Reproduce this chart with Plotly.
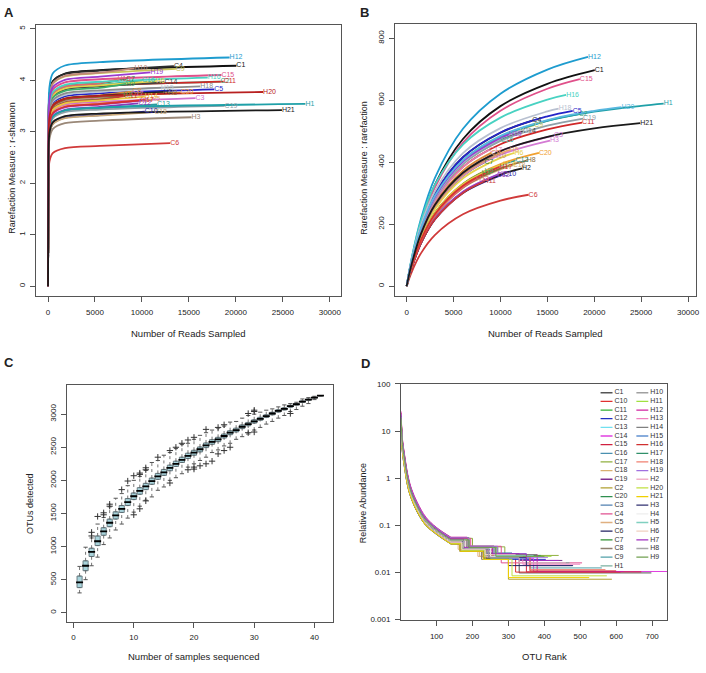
import plotly.graph_objects as go

W, H = 706, 673
FONT = "Liberation Sans, Arial, sans-serif"

# ---------------- sample table (panels A and B) ----------------
NAMES = ["C1", "C2", "C3", "C4", "C5", "C6", "C7", "C8", "C9", "C10",
         "C11", "C12", "C13", "C14", "C15", "C16", "C17", "C18", "C19", "C20",
         "H1", "H2", "H3", "H4", "H5", "H6", "H7", "H8", "H9", "H10",
         "H11", "H12", "H13", "H14", "H15", "H16", "H17", "H18", "H19", "H20", "H21"]
DEPTH = [20050, 18350, 15700, 13400, 17700, 13000, 8300, 9000, 13600, 10300,
         18700, 9600, 11600, 12400, 18460, 10000, 8800, 11300, 18800, 14100,
         27400, 12300, 15280, 8000, 11000, 11500, 9700, 12800, 8300, 9200,
         8200, 19330, 7400, 10300, 12000, 17000, 9900, 16200, 10900, 22900, 24900]

COLOR_A = ["#111111", "#3aa57a", "#d070d0", "#2b2b2b", "#2525c8", "#d03a3a", "#1f7a3a", "#d98c3a", "#c9c45a", "#2424a8",
           "#d02828", "#8a3ab9", "#2a9d9d", "#444444", "#e0508a", "#3cb8a8", "#e080b0", "#c8a878", "#8fa0a8", "#f0a030",
           "#1fa0a8", "#202020", "#9a8878", "#5a9a3a", "#e8a868", "#e6d24a", "#9b40c8", "#8b6a3a", "#3cae6a", "#c08878",
           "#c83838", "#1e9ccf", "#e06a6a", "#e8c840", "#b8c8d8", "#48d2c2", "#d83030", "#8c8c8c", "#9a3ad0", "#b82020", "#1a1a1a"]
COLOR_B = list(COLOR_A)
COLOR_B[NAMES.index("H3")] = "#d47ad4"
COLOR_B[NAMES.index("H18")] = "#b8c0d0"
COLOR_B[NAMES.index("H20")] = "#5ab8e0"

# Panel A: Shannon rarefaction values at reads [0, 40, 150, 500, 1800, 5500] then at DEPTH
SHANNON_X = [0, 40, 150, 500, 1800, 5500]
SHANNON = [
    [0, 2.354, 3.724, 3.980, 4.130, 4.194, 4.28],
    [0, 2.184, 3.454, 3.692, 3.831, 3.891, 3.97],
    [0, 2.008, 3.176, 3.395, 3.522, 3.577, 3.65],
    [0, 2.349, 3.715, 3.971, 4.121, 4.185, 4.27],
    [0, 2.101, 3.323, 3.553, 3.686, 3.744, 3.82],
    [0, 1.529, 2.419, 2.585, 2.683, 2.724, 2.78],
    [0, 2.211, 3.497, 3.739, 3.879, 3.940, 4.02],
    [0, 2.079, 3.289, 3.515, 3.648, 3.704, 3.78],
    [0, 2.321, 3.671, 3.925, 4.072, 4.136, 4.22],
    [0, 1.865, 2.949, 3.153, 3.271, 3.322, 3.39],
    [0, 2.184, 3.454, 3.692, 3.831, 3.891, 3.97],
    [0, 1.953, 3.089, 3.302, 3.426, 3.479, 3.55],
    [0, 1.942, 3.071, 3.283, 3.406, 3.459, 3.53],
    [0, 2.178, 3.445, 3.683, 3.821, 3.881, 3.96],
    [0, 2.255, 3.567, 3.813, 3.957, 4.018, 4.10],
    [0, 2.195, 3.471, 3.711, 3.850, 3.910, 3.99],
    [0, 2.046, 3.236, 3.460, 3.590, 3.646, 3.72],
    [0, 1.859, 2.941, 3.143, 3.262, 3.312, 3.38],
    [0, 1.925, 3.045, 3.255, 3.378, 3.430, 3.50],
    [0, 2.068, 3.271, 3.497, 3.628, 3.685, 3.76],
    [0, 1.947, 3.080, 3.292, 3.416, 3.469, 3.54],
    [0, 2.074, 3.280, 3.506, 3.638, 3.695, 3.77],
    [0, 1.804, 2.854, 3.050, 3.165, 3.214, 3.28],
    [0, 2.035, 3.219, 3.441, 3.571, 3.626, 3.70],
    [0, 1.991, 3.149, 3.367, 3.493, 3.548, 3.62],
    [0, 2.189, 3.463, 3.701, 3.841, 3.900, 3.98],
    [0, 1.980, 3.132, 3.348, 3.474, 3.528, 3.60],
    [0, 2.063, 3.263, 3.488, 3.619, 3.675, 3.75],
    [0, 2.162, 3.419, 3.655, 3.792, 3.851, 3.93],
    [0, 2.327, 3.680, 3.934, 4.082, 4.145, 4.23],
    [0, 2.030, 3.210, 3.432, 3.561, 3.616, 3.69],
    [0, 2.442, 3.863, 4.129, 4.285, 4.351, 4.44],
    [0, 2.211, 3.497, 3.739, 3.879, 3.940, 4.02],
    [0, 2.024, 3.202, 3.422, 3.551, 3.606, 3.68],
    [0, 2.118, 3.350, 3.581, 3.715, 3.773, 3.85],
    [0, 2.228, 3.524, 3.767, 3.908, 3.969, 4.05],
    [0, 1.986, 3.141, 3.357, 3.484, 3.538, 3.61],
    [0, 2.134, 3.376, 3.608, 3.744, 3.802, 3.88],
    [0, 2.283, 3.611, 3.860, 4.005, 4.067, 4.15],
    [0, 2.074, 3.280, 3.506, 3.638, 3.695, 3.77],
    [0, 1.881, 2.975, 3.181, 3.300, 3.352, 3.42],
]

# Panel B: richness at reads [0, 500, 1500, 3000, 6000, 10000, 15000, 20000, 25000] (as far as read) then at DEPTH
RICH_X = [0, 500, 1500, 3000, 6000, 10000, 15000, 20000, 25000]
RICH = [
    [0, 79, 201, 327, 475, 581, 653, 697],
    [0, 75, 184, 290, 406, 483, 534, 555],
    [0, 68, 166, 261, 366, 436, 481, 486],
    [0, 77, 189, 297, 416, 495, 534],
    [0, 77, 189, 297, 416, 496, 548, 566],
    [0, 43, 105, 165, 232, 276, 295],
    [0, 66, 162, 254, 356, 400],
    [0, 69, 169, 266, 373, 430],
    [0, 75, 184, 288, 404, 481, 520],
    [0, 56, 137, 215, 301, 361],
    [0, 71, 175, 275, 385, 458, 506, 528],
    [0, 56, 138, 217, 304, 358],
    [0, 61, 149, 234, 328, 390, 406],
    [0, 74, 180, 283, 397, 472, 500],
    [0, 77, 196, 318, 463, 566, 637, 668],
    [0, 73, 179, 282, 395, 470],
    [0, 71, 175, 274, 384, 440],
    [0, 59, 144, 226, 317, 377, 390],
    [0, 73, 179, 281, 394, 469, 518, 541],
    [0, 61, 151, 237, 331, 394, 430],
    [0, 75, 184, 289, 405, 482, 533, 563, 582, 589],
    [0, 56, 137, 216, 302, 360, 380],
    [0, 66, 162, 254, 356, 424, 470],
    [0, 61, 149, 235, 329, 365],
    [0, 67, 164, 257, 360, 429, 440],
    [0, 64, 158, 248, 348, 414, 430],
    [0, 57, 139, 218, 305, 360],
    [0, 59, 145, 228, 319, 380, 405],
    [0, 61, 150, 235, 329, 370],
    [0, 67, 164, 258, 362, 420],
    [0, 56, 137, 215, 301, 337],
    [0, 85, 215, 349, 508, 621, 699, 740],
    [0, 59, 145, 228, 319, 345],
    [0, 61, 150, 235, 329, 395],
    [0, 74, 182, 286, 400, 476, 500],
    [0, 85, 208, 327, 457, 544, 602, 617],
    [0, 60, 147, 232, 324, 385],
    [0, 79, 195, 306, 429, 510, 564, 573],
    [0, 74, 183, 287, 402, 478, 490],
    [0, 75, 185, 291, 407, 485, 536, 566, 578],
    [0, 68, 167, 262, 366, 436, 482, 509, 526],
]
READ_TICKS = [0, 5000, 10000, 15000, 20000, 25000, 30000]
READ_TICK_TEXT = ["0", "5000", "10000", "15000", "20000", "25000", "30000"]

# ---------------- panel C: OTU accumulation boxplots ----------------
C_X = list(range(1, 42))
C_MED = [460, 710, 920, 1080, 1230, 1360, 1470, 1570, 1670, 1760, 1840, 1910, 1990, 2060, 2120, 2190, 2250, 2310, 2370, 2420,
         2470, 2530, 2580, 2620, 2670, 2720, 2760, 2810, 2850, 2890, 2930, 2970, 3010, 3050, 3080, 3120, 3150, 3190, 3220, 3250, 3280]
C_Q1 = [380, 635, 850, 1015, 1170, 1300, 1415, 1515, 1620, 1710, 1790, 1860, 1940, 2015, 2075, 2145, 2210, 2270, 2330, 2380,
        2430, 2495, 2545, 2585, 2640, 2690, 2732, 2782, 2825, 2865, 2908, 2950, 2990, 3032, 3064, 3105, 3138, 3180, 3212, 3244, 3280]
C_Q3 = [555, 785, 975, 1160, 1285, 1415, 1525, 1620, 1725, 1810, 1890, 1955, 2035, 2105, 2165, 2230, 2290, 2350, 2410, 2455,
        2505, 2565, 2615, 2650, 2700, 2750, 2788, 2838, 2875, 2915, 2952, 2990, 3028, 3068, 3096, 3134, 3162, 3200, 3228, 3256, 3280]
C_LO = [300, 500, 710, 840, 1030, 1130, 1250, 1340, 1430, 1520, 1610, 1700, 1750, 1850, 1900, 2000, 2040, 2100, 2200, 2250,
        2300, 2350, 2420, 2460, 2520, 2560, 2620, 2660, 2700, 2760, 2800, 2850, 2890, 2940, 2980, 3040, 3070, 3120, 3160, 3220, 3280]
C_HI = [700, 990, 1130, 1340, 1440, 1600, 1730, 1800, 1920, 2000, 2060, 2150, 2270, 2300, 2380, 2420, 2480, 2540, 2560, 2620,
        2680, 2720, 2760, 2790, 2820, 2880, 2890, 2940, 2980, 3000, 3030, 3060, 3080, 3110, 3140, 3160, 3180, 3230, 3250, 3270, 3280]
OUT_X = [3, 3, 4, 5, 5, 6, 6, 8, 9, 10, 10, 11, 11, 11, 12, 12, 12, 14, 16, 16, 17, 18, 19, 19, 20, 20, 20,
         21, 22, 22, 23, 24, 24, 25, 25, 26, 29, 29, 30, 30, 30, 36]
OUT_Y = [1215, 1160, 1455, 1510, 1480, 1640, 1610, 1860, 1990, 2070, 1480, 2110, 2090, 1570, 2190, 2160, 1690, 2350, 2450, 1960,
         2500, 2560, 2610, 2160, 2650, 2200, 2170, 2220, 2770, 2250, 2290, 2800, 2400, 2840, 2450, 2500, 3010, 2720, 3060, 2730, 3040, 3010]

# ---------------- panel D: rank abundance ----------------
LEGEND_ORDER = ["C1", "C10", "C11", "C12", "C13", "C14", "C15", "C16", "C17", "C18", "C19", "C2", "C20", "C3", "C4",
                "C5", "C6", "C7", "C8", "C9", "H1", "H10", "H11", "H12", "H13", "H14", "H15", "H16", "H17", "H18",
                "H19", "H2", "H20", "H21", "H3", "H4", "H5", "H6", "H7", "H8", "H9"]
D_COLORS = ["#555555", "#e03030", "#30b030", "#2030c0", "#70e0f0", "#e040e0", "#d02040", "#4a90b0", "#90b040", "#d8b070",
            "#803090", "#b0a030", "#2f8f4f", "#5080b0", "#e05090", "#e0b080", "#202060", "#309030", "#8f7f6f", "#50a0a8",
            "#7ab0a0", "#a0a0a0", "#a0e040", "#d020a0", "#f080c0", "#808080", "#6090d0", "#d03030", "#30906a", "#f08070",
            "#a070e0", "#f0b0c8", "#c0e040", "#f0d000", "#303070", "#eeeeee", "#80d0c0", "#f0d0c0", "#a030c0", "#a8a8a8", "#70a050"]
HEAD_RANK = [1, 5, 10, 20, 30, 47, 70, 100, 140]
D_HEAD = [
    [20, 5.5, 2.9, 1.0, 0.52, 0.26, 0.135, 0.082, 0.05],
    [16, 4.6, 2.4, 0.85, 0.46, 0.23, 0.12, 0.075, 0.046],
    [22, 6.0, 3.1, 1.05, 0.55, 0.27, 0.14, 0.088, 0.055],
    [14, 4.2, 2.2, 0.78, 0.42, 0.21, 0.112, 0.072, 0.045],
    [19, 5.2, 2.7, 0.92, 0.49, 0.245, 0.128, 0.08, 0.05],
    [15, 4.4, 2.3, 0.82, 0.44, 0.22, 0.115, 0.073, 0.045],
    [24, 6.3, 3.3, 1.1, 0.57, 0.28, 0.14, 0.085, 0.052],
    [17, 4.8, 2.5, 0.88, 0.47, 0.235, 0.122, 0.077, 0.047],
    [21, 5.8, 3.0, 1.0, 0.53, 0.265, 0.135, 0.085, 0.053],
    [13, 4.0, 2.1, 0.75, 0.41, 0.21, 0.11, 0.07, 0.044],
    [18, 5.0, 2.6, 0.9, 0.48, 0.24, 0.125, 0.078, 0.048],
    [12, 3.6, 1.9, 0.66, 0.37, 0.19, 0.1, 0.066, 0.041],
    [20, 5.5, 2.8, 0.96, 0.5, 0.25, 0.13, 0.082, 0.05],
    [16, 4.6, 2.4, 0.84, 0.45, 0.225, 0.118, 0.074, 0.046],
    [23, 6.2, 3.2, 1.08, 0.56, 0.28, 0.14, 0.086, 0.053],
    [15, 4.3, 2.25, 0.8, 0.43, 0.215, 0.113, 0.072, 0.045],
    [11, 3.4, 1.8, 0.64, 0.36, 0.185, 0.1, 0.064, 0.04],
    [19, 5.3, 2.75, 0.94, 0.5, 0.25, 0.13, 0.08, 0.05],
    [14, 4.1, 2.15, 0.76, 0.41, 0.205, 0.108, 0.069, 0.043],
    [17, 4.9, 2.55, 0.88, 0.47, 0.235, 0.122, 0.077, 0.048],
    [22, 6.0, 3.1, 1.05, 0.55, 0.27, 0.14, 0.087, 0.054],
    [16, 4.5, 2.35, 0.83, 0.45, 0.225, 0.118, 0.075, 0.046],
    [18, 5.1, 2.65, 0.9, 0.48, 0.24, 0.125, 0.078, 0.049],
    [26, 6.8, 3.5, 1.18, 0.6, 0.3, 0.15, 0.09, 0.056],
    [15, 4.4, 2.3, 0.82, 0.44, 0.22, 0.116, 0.073, 0.046],
    [20, 5.6, 2.9, 0.98, 0.52, 0.26, 0.133, 0.083, 0.051],
    [17, 4.8, 2.5, 0.87, 0.46, 0.232, 0.12, 0.076, 0.047],
    [21, 5.8, 3.0, 1.02, 0.54, 0.27, 0.137, 0.084, 0.052],
    [14, 4.2, 2.2, 0.78, 0.42, 0.21, 0.111, 0.071, 0.044],
    [19, 5.3, 2.7, 0.93, 0.49, 0.245, 0.127, 0.079, 0.049],
    [23, 6.2, 3.2, 1.08, 0.56, 0.28, 0.142, 0.087, 0.054],
    [13, 3.9, 2.05, 0.72, 0.39, 0.2, 0.106, 0.068, 0.043],
    [12, 3.7, 1.95, 0.69, 0.38, 0.195, 0.103, 0.066, 0.041],
    [11, 3.5, 1.85, 0.66, 0.365, 0.19, 0.1, 0.065, 0.04],
    [16, 4.6, 2.4, 0.84, 0.45, 0.225, 0.117, 0.074, 0.046],
    [18, 5.0, 2.6, 0.9, 0.48, 0.24, 0.125, 0.078, 0.048],
    [20, 5.5, 2.85, 0.97, 0.51, 0.255, 0.132, 0.082, 0.05],
    [15, 4.3, 2.25, 0.8, 0.43, 0.215, 0.113, 0.072, 0.045],
    [21, 5.7, 2.95, 1.0, 0.53, 0.262, 0.135, 0.083, 0.051],
    [17, 4.7, 2.45, 0.86, 0.46, 0.23, 0.12, 0.075, 0.047],
    [19, 5.2, 2.7, 0.92, 0.49, 0.245, 0.127, 0.079, 0.049],
]
D_TAIL_X = [
    [140, 175, 240, 330, 698], [140, 170, 230, 320, 612], [140, 190, 260, 400], [140, 180, 250, 404],
    [140, 185, 260, 350], [140, 175, 260, 370, 742], [140, 180, 250, 350, 670], [140, 170, 230, 330],
    [140, 200, 290, 440], [140, 165, 220, 300], [140, 175, 240, 330, 450], [140, 175, 235, 300, 588],
    [140, 185, 265, 390], [140, 170, 230, 310], [140, 195, 280, 505], [140, 160, 215, 290],
    [140, 165, 230, 300, 478], [140, 190, 270, 395], [140, 165, 225, 290], [140, 180, 250, 360, 560],
    [140, 185, 260, 350, 470], [140, 175, 240, 330], [140, 190, 270, 420], [140, 185, 260, 380, 620],
    [140, 180, 245, 340, 500], [140, 190, 265, 380], [140, 180, 250, 360], [140, 185, 255, 360, 600],
    [140, 170, 235, 320], [140, 180, 250, 360, 570], [140, 190, 270, 410], [140, 170, 235, 330, 460],
    [140, 170, 235, 310, 574], [140, 165, 230, 300, 525], [140, 175, 245, 350, 480], [140, 180, 250, 340],
    [140, 185, 260, 370], [140, 170, 235, 320], [140, 175, 255, 350, 440], [140, 175, 245, 330], [140, 190, 265, 400],
]
D_TAIL_Y = [
    [0.05, 0.035, 0.023, 0.0098, 0.0098], [0.046, 0.032, 0.021, 0.0102, 0.0102], [0.055, 0.036, 0.022, 0.022], [0.045, 0.031, 0.019, 0.019],
    [0.05, 0.034, 0.025, 0.025], [0.045, 0.03, 0.02, 0.0105, 0.0105], [0.052, 0.035, 0.022, 0.0103, 0.0103], [0.047, 0.033, 0.024, 0.024],
    [0.053, 0.035, 0.023, 0.023], [0.044, 0.03, 0.022, 0.022], [0.048, 0.033, 0.025, 0.018, 0.018], [0.041, 0.03, 0.02, 0.0072, 0.0072],
    [0.05, 0.035, 0.023, 0.023], [0.046, 0.032, 0.026, 0.026], [0.053, 0.036, 0.016, 0.016], [0.045, 0.031, 0.022, 0.022],
    [0.04, 0.028, 0.02, 0.014, 0.014], [0.05, 0.034, 0.022, 0.022], [0.043, 0.03, 0.019, 0.019], [0.048, 0.033, 0.021, 0.0125, 0.0125],
    [0.054, 0.036, 0.024, 0.016, 0.016], [0.046, 0.032, 0.021, 0.021], [0.049, 0.034, 0.022, 0.022], [0.056, 0.036, 0.024, 0.0105, 0.0105],
    [0.046, 0.032, 0.022, 0.015, 0.015], [0.051, 0.035, 0.024, 0.024], [0.047, 0.032, 0.02, 0.02], [0.052, 0.035, 0.023, 0.0108, 0.0108],
    [0.044, 0.031, 0.022, 0.022], [0.049, 0.034, 0.022, 0.0115, 0.0115], [0.054, 0.036, 0.021, 0.021], [0.043, 0.031, 0.022, 0.016, 0.016],
    [0.041, 0.029, 0.019, 0.0085, 0.0085], [0.04, 0.028, 0.019, 0.0078, 0.0078], [0.046, 0.032, 0.021, 0.014, 0.014], [0.048, 0.033, 0.022, 0.022],
    [0.05, 0.034, 0.023, 0.023], [0.045, 0.031, 0.024, 0.024], [0.051, 0.034, 0.025, 0.018, 0.018], [0.047, 0.032, 0.021, 0.021], [0.049, 0.034, 0.022, 0.022],
]

# ---------------- figure ----------------
fig = go.Figure()

# Panel A
for i, name in enumerate(NAMES):
    fig.add_trace(go.Scatter(x=SHANNON_X + [DEPTH[i]], y=SHANNON[i], mode="lines",
                             line=dict(color=COLOR_A[i], width=1.8, shape="spline", smoothing=0.8),
                             xaxis="x", yaxis="y", hoverinfo="skip"))
fig.add_trace(go.Scatter(x=DEPTH, y=[s[-1] for s in SHANNON], mode="text", text=NAMES,
                         textposition="middle right", textfont=dict(size=7, color=COLOR_A, family=FONT),
                         xaxis="x", yaxis="y", cliponaxis=False, hoverinfo="skip"))

# Panel B
for i, name in enumerate(NAMES):
    vals = RICH[i]
    fig.add_trace(go.Scatter(x=RICH_X[:len(vals) - 1] + [DEPTH[i]], y=vals, mode="lines",
                             line=dict(color=COLOR_B[i], width=1.8, shape="spline", smoothing=1.0),
                             xaxis="x2", yaxis="y2", hoverinfo="skip"))
fig.add_trace(go.Scatter(x=DEPTH, y=[r[-1] for r in RICH], mode="text", text=NAMES,
                         textposition="middle right", textfont=dict(size=7, color=COLOR_B, family=FONT),
                         xaxis="x2", yaxis="y2", cliponaxis=False, hoverinfo="skip"))

# Panel C
wx, wy = [], []
for x, lo, q1, q3, hi in zip(C_X, C_LO, C_Q1, C_Q3, C_HI):
    wx += [x, x, None, x, x, None]
    wy += [q3, hi, None, lo, q1, None]
fig.add_trace(go.Scatter(x=wx, y=wy, mode="lines", line=dict(color="#666666", width=0.9, dash="dot"),
                         xaxis="x3", yaxis="y3", hoverinfo="skip"))
fig.add_trace(go.Scatter(x=C_X + C_X, y=C_HI + C_LO, mode="markers",
                         marker=dict(symbol="line-ew", size=3, line=dict(color="#555555", width=1)),
                         xaxis="x3", yaxis="y3", hoverinfo="skip"))
fig.add_trace(go.Box(x=C_X, q1=C_Q1, median=C_MED, q3=C_Q3, lowerfence=C_Q1, upperfence=C_Q3,
                     width=0.85, fillcolor="#a9d4dc", line=dict(color="#56666c", width=0.8),
                     boxpoints=False, xaxis="x3", yaxis="y3", hoverinfo="skip"))
fig.add_trace(go.Scatter(x=C_X, y=C_MED, mode="markers",
                         marker=dict(symbol="line-ew", size=5, line=dict(color="#000000", width=1.8)),
                         xaxis="x3", yaxis="y3", hoverinfo="skip"))
fig.add_trace(go.Scatter(x=OUT_X, y=OUT_Y, mode="markers",
                         marker=dict(symbol="cross-thin", size=4.5, line=dict(color="#333333", width=1)),
                         xaxis="x3", yaxis="y3", hoverinfo="skip"))

# Panel D
for j, name in enumerate(LEGEND_ORDER):
    fig.add_trace(go.Scatter(x=HEAD_RANK, y=D_HEAD[j], mode="lines",
                             line=dict(color=D_COLORS[j], width=1, shape="spline"),
                             xaxis="x4", yaxis="y4", hoverinfo="skip"))
    fig.add_trace(go.Scatter(x=D_TAIL_X[j], y=D_TAIL_Y[j], mode="lines",
                             line=dict(color=D_COLORS[j], width=1, shape="hv"),
                             xaxis="x4", yaxis="y4", hoverinfo="skip"))

# Panel D legend (drawn in an overlay axis covering panel D)
DX0, DX1, DY0, DY1 = 403.3, 671.0, 385.0, 624.0
def fx(px):
    return (px - DX0) / (DX1 - DX0)
def fy(py):
    return (DY1 - py) / (DY1 - DY0)
lt_x, lt_y = [], []
for j, name in enumerate(LEGEND_ORDER):
    col, row = (0, j) if j < 21 else (1, j - 21)
    x0 = 604 if col == 0 else 640
    py = 394 + row * 8.77
    fig.add_trace(go.Scatter(x=[fx(x0), fx(x0 + 12)], y=[fy(py), fy(py)], mode="lines",
                             line=dict(color=D_COLORS[j], width=1.3), xaxis="x5", yaxis="y5", hoverinfo="skip"))
    lt_x.append(fx(x0 + 14))
    lt_y.append(fy(py))
fig.add_trace(go.Scatter(x=lt_x, y=lt_y, mode="text", text=LEGEND_ORDER, textposition="middle right",
                         textfont=dict(size=7, color="#333333", family=FONT),
                         xaxis="x5", yaxis="y5", cliponaxis=False, hoverinfo="skip"))

def dom_x(a, b):
    return [a / W, b / W]
def dom_y(top, bottom):
    return [1 - bottom / H, 1 - top / H]

axis_common = dict(showline=True, mirror=True, linecolor="#555555", linewidth=1, ticks="outside",
                   ticklen=5, tickcolor="#555555", tickwidth=1, showgrid=False, zeroline=False,
                   tickfont=dict(size=8, color="#222222", family=FONT))

fig.update_layout(
    width=W, height=H, margin=dict(l=0, r=0, t=0, b=0),
    paper_bgcolor="white", plot_bgcolor="rgba(0,0,0,0)", showlegend=False, hovermode=False,
    xaxis=dict(domain=dom_x(36, 343), range=[-1302, 31195], tickvals=READ_TICKS, ticktext=READ_TICK_TEXT,
               anchor="y", ticklabelstandoff=3, **axis_common),
    yaxis=dict(domain=dom_y(21.7, 296), range=[-0.19, 5.063], tickvals=[0, 1, 2, 3, 4, 5], tickangle=-90,
               anchor="x", ticklabelstandoff=2, **axis_common),
    xaxis2=dict(domain=dom_x(397, 700), range=[-1272, 30849], tickvals=READ_TICKS, ticktext=READ_TICK_TEXT,
                anchor="y2", ticklabelstandoff=3, **axis_common),
    yaxis2=dict(domain=dom_y(20.7, 296), range=[-31.8, 844.6], tickvals=[0, 200, 400, 600, 800], tickangle=-90,
                anchor="x2", ticklabelstandoff=2, **axis_common),
    xaxis3=dict(domain=dom_x(67.3, 335), range=[-1.1, 43.1], tickvals=[0, 10, 20, 30, 40],
                anchor="y3", ticklabelstandoff=3, **axis_common),
    yaxis3=dict(domain=dom_y(386, 626), range=[-134, 3443], tickvals=[0, 500, 1000, 1500, 2000, 2500, 3000],
                tickangle=-90, anchor="x3", ticklabelstandoff=2, **axis_common),
    xaxis4=dict(domain=dom_x(DX0, DX1), range=[1, 742], tickvals=[100, 200, 300, 400, 500, 600, 700],
                anchor="y4", ticklabelstandoff=4, **axis_common),
    yaxis4=dict(domain=dom_y(DY0, DY1), type="log", range=[-3, 2],
                tickvals=[0.001, 0.01, 0.1, 1, 10, 100], ticktext=["0.001", "0.01", "0.1", "1", "10", "100"],
                anchor="x4", ticklabelstandoff=3, **axis_common),
    xaxis5=dict(domain=dom_x(DX0, DX1), range=[0, 1], visible=False, anchor="y5"),
    yaxis5=dict(domain=dom_y(DY0, DY1), range=[0, 1], visible=False, anchor="x5"),
)

def ann(text, px, py, size=9.5, angle=0, bold=False):
    fig.add_annotation(text=("<b>%s</b>" % text) if bold else text, x=px / W, y=1 - py / H,
                       xref="paper", yref="paper", showarrow=False, textangle=angle,
                       font=dict(size=size, color="#222222", family=FONT), xanchor="center", yanchor="middle")

ann("A", 9, 9, size=13, bold=True)
ann("B", 367, 9, size=13, bold=True)
ann("C", 9, 363, size=13, bold=True)
ann("D", 368, 364, size=13, bold=True)
ann("Number of Reads Sampled", 190, 334)
ann("Number of Reads Sampled", 549, 334)
ann("Number of samples sequenced", 195, 661)
ann("OTU Rank", 548, 661)
ann("Rarefaction Measure : r-shannon", 12, 166, size=9, angle=-90)
ann("Rarefaction Measure : rarefaction", 366, 166, size=9, angle=-90)
ann("OTUs detected", 30, 506, size=9, angle=-90)
ann("Relative Abundance", 365, 506, size=9, angle=-90)

fig.write_html("out.html", config={"displayModeBar": False, "staticPlot": True},
               post_script="document.body.style.margin='0px';document.body.style.padding='0px';")
